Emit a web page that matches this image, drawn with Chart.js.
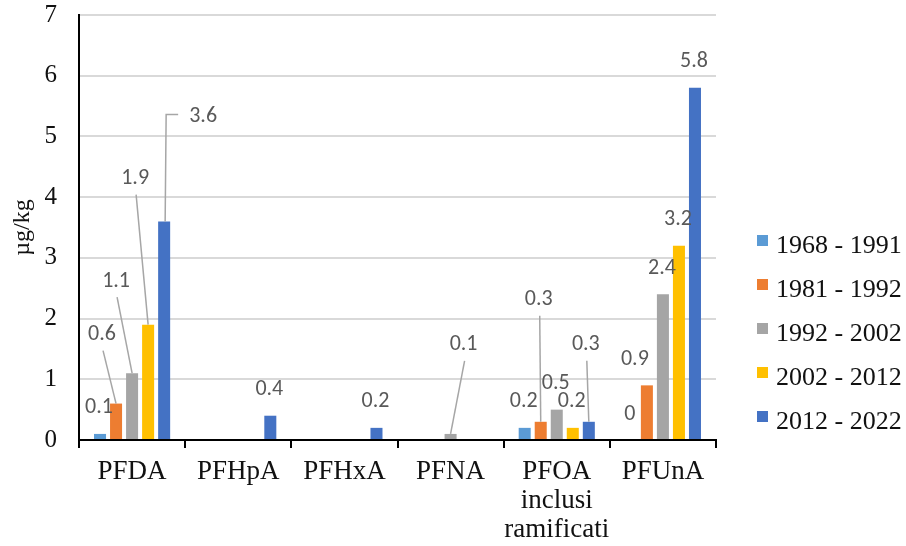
<!DOCTYPE html>
<html>
<head>
<meta charset="utf-8">
<script src="https://cdn.jsdelivr.net/npm/chart.js@4.4.0/dist/chart.umd.min.js"></script>
<style>
  html, body { margin: 0; padding: 0; background: #ffffff; }
  #wrap { width: 906px; height: 546px; }
</style>
</head>
<body>
<div id="wrap"><canvas id="c" width="906" height="546"></canvas></div>
<script>
// ---- data ----
const categories = ['PFDA', 'PFHpA', 'PFHxA', 'PFNA', ['PFOA', 'inclusi', 'ramificati'], 'PFUnA'];
const seriesNames = ['1968 - 1991', '1981 - 1992', '1992 - 2002', '2002 - 2012', '2012 - 2022'];
const s1968_1991 = [0.1, null, null, null, 0.2, 0];
const s1981_1992 = [0.6, null, null, null, 0.3, 0.9];
const s1992_2002 = [1.1, null, null, 0.1, 0.5, 2.4];
const s2002_2012 = [1.9, null, null, null, 0.2, 3.2];
const s2012_2022 = [3.6, 0.4, 0.2, null, 0.3, 5.8];
const yTicks = [0, 1, 2, 3, 4, 5, 6, 7];
const yTitle = 'µg/kg';

// ---- styles ----
const colors = ['#5B9BD5', '#ED7D31', '#A5A5A5', '#FFC000', '#4472C4'];
const serif = "'Liberation Serif', 'Times New Roman', serif";
const labelFont = "22px Carlito, Calibri, 'Liberation Sans', Arial, sans-serif";

// data-label placement (pixel offsets relative to bar top), keyed "series,category"
const labelPlacement = {
  '1,0': { dx: -14, dy: -69, leader: 'line' },
  '2,0': { dx: -16, dy: -92, leader: 'line' },
  '3,0': { dx: -13, dy: -146, leader: 'line' },
  '4,0': { dx: 39, dy: -105, leader: 'elbow' },
  '2,3': { dx: 13, dy: -89, leader: 'line' },
  '1,4': { dx: -2, dy: -122, leader: 'line' },
  '4,4': { dx: -3, dy: -77, leader: 'line' },
  '1,5': { dx: -12, dy: -26 }
};

const seriesData = [s1968_1991, s1981_1992, s1992_2002, s2002_2012, s2012_2022];

const barLabels = {
  id: 'barLabels',
  afterDatasetsDraw(chart) {
    const ctx = chart.ctx;
    ctx.save();
    ctx.font = labelFont;
    ctx.textAlign = 'center';
    ctx.textBaseline = 'middle';
    chart.data.datasets.forEach((ds, si) => {
      const meta = chart.getDatasetMeta(si);
      ds.data.forEach((v, ci) => {
        if (v === null || v === undefined) return;
        const bar = meta.data[ci];
        const p = labelPlacement[si + ',' + ci] || {};
        const dx = p.dx !== undefined ? p.dx : -1;
        const dy = p.dy !== undefined ? p.dy : -26;
        const lx = bar.x + dx, ly = bar.y + dy;
        ctx.strokeStyle = '#a6a6a6';
        ctx.lineWidth = 1.5;
        if (p.leader === 'line') {
          ctx.beginPath();
          ctx.moveTo(lx + 1, ly + 16);
          ctx.lineTo(bar.x, bar.y);
          ctx.stroke();
        } else if (p.leader === 'elbow') {
          ctx.beginPath();
          ctx.moveTo(bar.x + 1, bar.y);
          ctx.lineTo(bar.x + 2, ly - 2);
          ctx.lineTo(lx - 25, ly - 2);
          ctx.stroke();
        }
        ctx.fillStyle = '#595959';
        ctx.fillText(String(v), lx, ly);
      });
    });
    ctx.restore();
  }
};

const sideLegend = {
  id: 'sideLegend',
  afterDraw(chart) {
    const ctx = chart.ctx;
    ctx.save();
    ctx.font = '26px ' + serif;
    ctx.textAlign = 'left';
    ctx.textBaseline = 'middle';
    chart.data.datasets.forEach((ds, i) => {
      const yc = 246 + i * 44;
      ctx.fillStyle = ds.backgroundColor;
      ctx.fillRect(757, yc - 11, 11, 11);
      ctx.fillStyle = '#111';
      ctx.fillText(ds.label, 776, yc);
    });
    ctx.restore();
  }
};

new Chart(document.getElementById('c'), {
  type: 'bar',
  data: {
    labels: categories,
    datasets: seriesNames.map((n, i) => ({
      label: n,
      data: seriesData[i],
      backgroundColor: colors[i],
      borderWidth: 0,
      categoryPercentage: 0.755,
      barPercentage: 0.75
    }))
  },
  options: {
    responsive: false,
    animation: false,
    layout: { padding: { top: 15, right: 190, left: 0, bottom: 0 } },
    plugins: {
      legend: { display: false },
      tooltip: { enabled: false }
    },
    scales: {
      x: {
        afterFit(s) { s.height = 106; s.paddingLeft = 0; s.paddingRight = 0; },
        grid: { drawOnChartArea: false, drawTicks: true, tickLength: 8, color: '#000', lineWidth: 2 },
        border: { display: true, color: '#000', width: 2 },
        ticks: { color: '#111', font: { family: serif, size: 27, lineHeight: 1.06 }, padding: 10, maxRotation: 0, autoSkip: false }
      },
      y: {
        min: 0, max: 7,
        afterFit(s) { s.width = 79; s.paddingTop = 0; s.paddingBottom = 0; },
        afterBuildTicks(s) { s.ticks = yTicks.map(v => ({ value: v })); },
        grid: { color: '#d9d9d9', lineWidth: 2, drawTicks: false },
        border: { display: true, color: '#000', width: 2 },
        ticks: { color: '#111', font: { family: serif, size: 25 }, padding: 22 },
        title: { display: true, text: yTitle, color: '#111', font: { family: serif, size: 24 }, padding: 8 }
      }
    }
  },
  plugins: [barLabels, sideLegend]
});
</script>
</body>
</html>
